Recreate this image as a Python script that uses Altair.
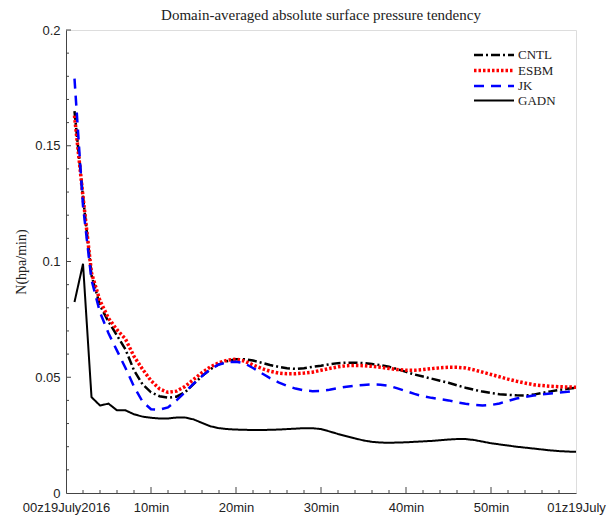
import altair as alt
import pandas as pd

minutes = list(range(1, 61))

cntl = [0.165, 0.128, 0.094, 0.081, 0.074, 0.068, 0.062, 0.053, 0.047, 0.0435,
        0.0418, 0.0412, 0.0416, 0.0435, 0.047, 0.0505, 0.0535, 0.0556, 0.0570, 0.0578,
        0.0578, 0.0572, 0.0563, 0.0553, 0.0545, 0.0539, 0.0536, 0.0539, 0.0545, 0.0550,
        0.0556, 0.0561, 0.0563, 0.0563, 0.0561, 0.0557, 0.0552, 0.0545, 0.0535, 0.0523,
        0.0512, 0.0503, 0.0494, 0.0485, 0.0476, 0.0465, 0.0455, 0.0446, 0.0438, 0.0432,
        0.0427, 0.0424, 0.0422, 0.0421, 0.0425, 0.0432, 0.0439, 0.0445, 0.0450, 0.0455]

esbm = [0.163, 0.128, 0.095, 0.083, 0.0755, 0.0705, 0.0665, 0.059, 0.0535, 0.0485,
        0.045, 0.0435, 0.0440, 0.046, 0.049, 0.052, 0.0545, 0.0563, 0.0574, 0.0578,
        0.0570, 0.0553, 0.0538, 0.0526, 0.0518, 0.0515, 0.0515, 0.0518, 0.0522, 0.0530,
        0.0538, 0.0545, 0.0550, 0.0551, 0.0550, 0.0547, 0.0543, 0.0538, 0.0533, 0.0530,
        0.0530, 0.0533, 0.0537, 0.0541, 0.0543, 0.0543, 0.0540, 0.0532, 0.0522, 0.0512,
        0.0502, 0.0492, 0.0483, 0.0475, 0.0468, 0.0464, 0.0461, 0.0459, 0.0458, 0.0457]

jk = [0.179, 0.124, 0.092, 0.078, 0.069, 0.0615, 0.054, 0.046, 0.0395, 0.0362,
      0.0360, 0.0370, 0.040, 0.0435, 0.0472, 0.0505, 0.0535, 0.0555, 0.0565, 0.0567,
      0.0560, 0.0540, 0.0518, 0.0496, 0.0478, 0.0463, 0.0451, 0.0443, 0.0440, 0.0441,
      0.0446, 0.0453, 0.0459, 0.0464, 0.0467, 0.0469, 0.0468, 0.0463, 0.0452, 0.0440,
      0.0428, 0.0418, 0.0411, 0.0405, 0.0400, 0.0392, 0.0386, 0.0381, 0.0378, 0.0380,
      0.0387, 0.0398, 0.0408, 0.0415, 0.0421, 0.0426, 0.0430, 0.0434, 0.0437, 0.0442]

gadn = [0.0825, 0.099, 0.0414, 0.0378, 0.0386, 0.0357, 0.0357, 0.0340, 0.0330, 0.0325,
        0.0322, 0.0322, 0.0326, 0.0326, 0.0318, 0.0303, 0.0288, 0.0280, 0.0276, 0.0274,
        0.0273, 0.0272, 0.0272, 0.0273, 0.0274, 0.0276, 0.0278, 0.0280, 0.0280, 0.0276,
        0.0266, 0.0255, 0.0245, 0.0236, 0.0227, 0.0221, 0.0218, 0.0217, 0.0218, 0.0219,
        0.0221, 0.0223, 0.0225, 0.0228, 0.0231, 0.0233, 0.0233, 0.0229, 0.0222, 0.0215,
        0.0210, 0.0205, 0.0200, 0.0196, 0.0192, 0.0188, 0.0184, 0.0181, 0.0179, 0.0178]

series_names = ["CNTL", "ESBM", "JK", "GADN"]
series_colors = ["#000000", "#ff0000", "#0000ff", "#000000"]
series_dashes = [[9, 3, 2, 3], [2.5, 2], [10, 7], [1, 0]]
series_widths = [2.5, 3.5, 2.5, 2.0]

x_major = [0, 10, 20, 30, 40, 50, 60]
x_labels = ["00z19July2016", "10min", "20min", "30min", "40min", "50min", "01z19July"]
x_minor = [m for m in range(0, 61, 2) if m % 10 != 0]
y_major = [0, 0.05, 0.1, 0.15, 0.2]
y_minor = [round(i * 0.01, 2) for i in range(21) if i % 5 != 0]

W, H = 510, 463

rows = []
for name, vals in zip(series_names, [cntl, esbm, jk, gadn]):
    for t, v in zip(minutes, vals):
        rows.append({"t": t, "value": v, "series": name})
df = pd.DataFrame(rows)

label_map = "{" + ",".join(f"'{t}':'{l}'" for t, l in zip(x_major, x_labels)) + "}"

xscale = alt.Scale(domain=[0, 60], nice=False, zero=False)
yscale = alt.Scale(domain=[0, 0.2], nice=False)

xaxis = alt.Axis(values=x_major, labelExpr=f"{label_map}[datum.value]",
                 ticks=False, grid=False, domainColor="#444444", labelFont="Liberation Sans",
                 labelFontSize=13, labelColor="#222222", labelPadding=8, title=None,
                 labelFlush=False)
yaxis = alt.Axis(values=y_major, format="~g", ticks=False, grid=False,
                 domainColor="#444444", labelFont="Liberation Sans", labelFontSize=13,
                 labelColor="#222222", labelPadding=6, title="N(hpa/min)",
                 titleFont="Liberation Serif", titleFontSize=14, titleFontWeight="normal",
                 titleColor="#222222", titlePadding=6)

lines = alt.Chart(df).mark_line(strokeCap="butt").encode(
    x=alt.X("t:Q", scale=xscale, axis=xaxis),
    y=alt.Y("value:Q", scale=yscale, axis=yaxis),
    color=alt.Color("series:N", scale=alt.Scale(domain=series_names, range=series_colors),
                    legend=alt.Legend(title=None, orient="none", legendX=419.5, legendY=17,
                                      padding=0, labelFont="Liberation Serif", labelFontSize=13,
                                      labelColor="#222222", symbolType="M-3.077,0H3.077",
                                      symbolSize=169, symbolStrokeWidth=3, rowPadding=0,
                                      labelOffset=15.5)),
    strokeDash=alt.StrokeDash("series:N", scale=alt.Scale(domain=series_names, range=series_dashes)),
    strokeWidth=alt.StrokeWidth("series:N", scale=alt.Scale(type="ordinal", domain=series_names,
                                                            range=series_widths)),
    order=alt.Order("t:Q"),
)

xmaj = alt.Chart(pd.DataFrame({"t": x_major[1:-1]})).mark_rule(color="#444444").encode(
    x=alt.X("t:Q", scale=xscale, axis=xaxis), y=alt.value(H), y2=alt.value(H - 6))
xmin = alt.Chart(pd.DataFrame({"t": x_minor})).mark_rule(color="#444444").encode(
    x=alt.X("t:Q", scale=xscale, axis=xaxis), y=alt.value(H), y2=alt.value(H - 3))
ymaj = alt.Chart(pd.DataFrame({"value": y_major[1:]})).mark_rule(color="#444444").encode(
    y=alt.Y("value:Q", scale=yscale, axis=yaxis), x=alt.value(0), x2=alt.value(5))
ymin = alt.Chart(pd.DataFrame({"value": y_minor})).mark_rule(color="#444444").encode(
    y=alt.Y("value:Q", scale=yscale, axis=yaxis), x=alt.value(0), x2=alt.value(3))

chart = alt.layer(xmaj, xmin, ymaj, ymin, lines).properties(
    width=W, height=H,
    title=alt.Title("Domain-averaged absolute surface pressure tendency",
                    font="Liberation Serif", fontSize=15, fontWeight="normal",
                    color="#222222", anchor="middle", offset=1),
    autosize=alt.AutoSizeParams(type="none"),
    padding={"left": 66, "top": 30, "right": 38, "bottom": 27},
).configure_view(stroke=None).configure(background="white")

chart.save("out.html", embed_options={"renderer": "svg", "actions": False})
